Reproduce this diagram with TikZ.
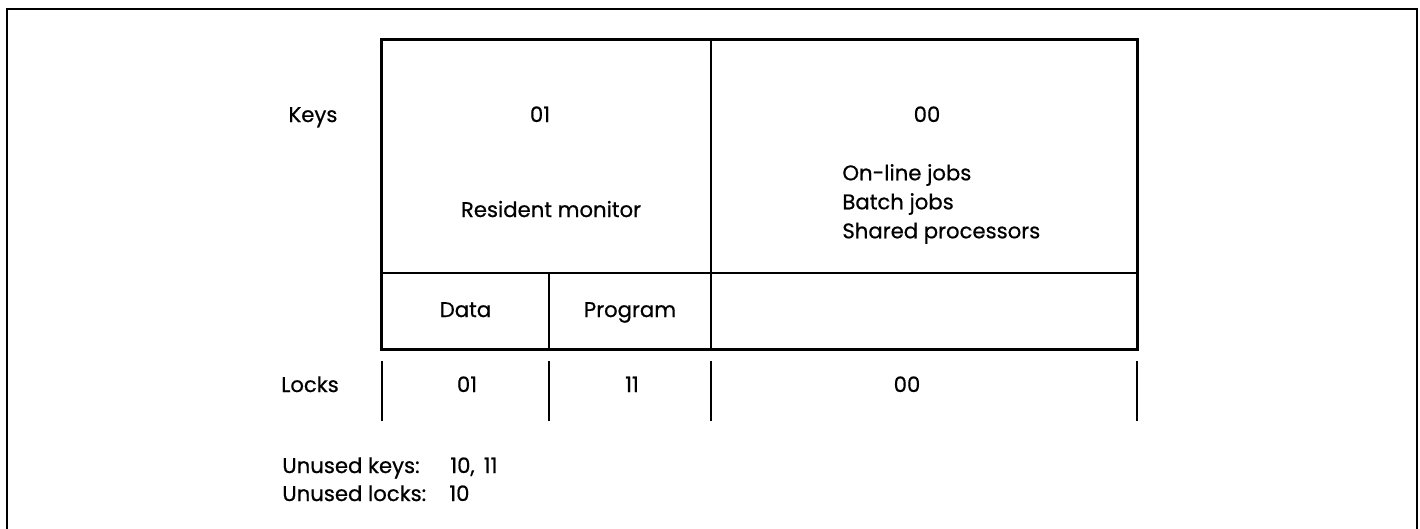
\documentclass[tikz,border=0pt]{standalone}
\usepackage{fontspec}
\setmainfont{Poppins}
\newfontfamily\diagfont{Poppins}[FakeBold=0.6]
\usetikzlibrary{positioning}
\tikzset{
    cellbox/.style={rectangle, draw, line width=0.9pt, inner sep=0pt, anchor=center},
    txt/.style={inner sep=0pt, text height=1.6ex, text depth=0.5ex, font=\diagfont\fontsize{10.6}{14.5}\selectfont},
    lockline/.style={line width=0.9pt}
}

\begin{document}
\begin{tikzpicture}[x=0.5pt, y=-0.5pt]
    \useasboundingbox (0,0) rectangle (1420,529);

    % --- outer frame (open at the bottom) ---
    \draw[line width=1.4pt] (7,540) -- (7,9) -- (1417,9) -- (1417,540);

    % --- key regions ---
    \node[cellbox, minimum width=164.5pt, minimum height=116.5pt] (monitor) at (546.5,156.5) {};
    \node[cellbox, minimum width=213pt, minimum height=116.5pt] (jobs) at (924,156.5) {};
    \node[cellbox, minimum width=83.5pt, minimum height=38pt, txt] (data) at (465.5,311) {Data};
    \node[cellbox, minimum width=81pt, minimum height=38pt, txt] (program) at (630,311) {Program};
    \node[cellbox, minimum width=213pt, minimum height=38pt] (free) at (924,311) {};
    \draw[line width=1.5pt] (monitor.north west) rectangle (free.south east);

    \node[txt] (keys) at (313,116) {Keys};
    \node[txt] (monkey) at (540,116) {01};
    \node[txt] (montext) at (551,211) {Resident monitor};
    \node[txt, anchor=west, align=left, text height=, text depth=] (jobtext) at (842,204) {On-line jobs\\Batch jobs\\Shared processors};
    \node[txt] (jobkey) at (927,116) {00};

    % --- locks ---
    \foreach \x in {382,549,711,1137}
        \draw[lockline] (\x,361) -- (\x,421);
    \node[txt] (locks) at (310,386) {Locks};
    \node[txt] (datalock) at (467,386) {01};
    \node[txt] (proglock) at (632,386) {11};
    \node[txt] (joblock) at (907,386) {00};

    % --- notes ---
    \node[txt, anchor=west] (unkeys) at (282,467) {Unused keys:};
    \node[txt, anchor=west] (unkeysval) at (450,467) {10,\, 11};
    \node[txt, anchor=west] (unlocks) at (282,495) {Unused locks:};
    \node[txt, anchor=west] (unlocksval) at (449,495) {10};
\end{tikzpicture}
\end{document}
